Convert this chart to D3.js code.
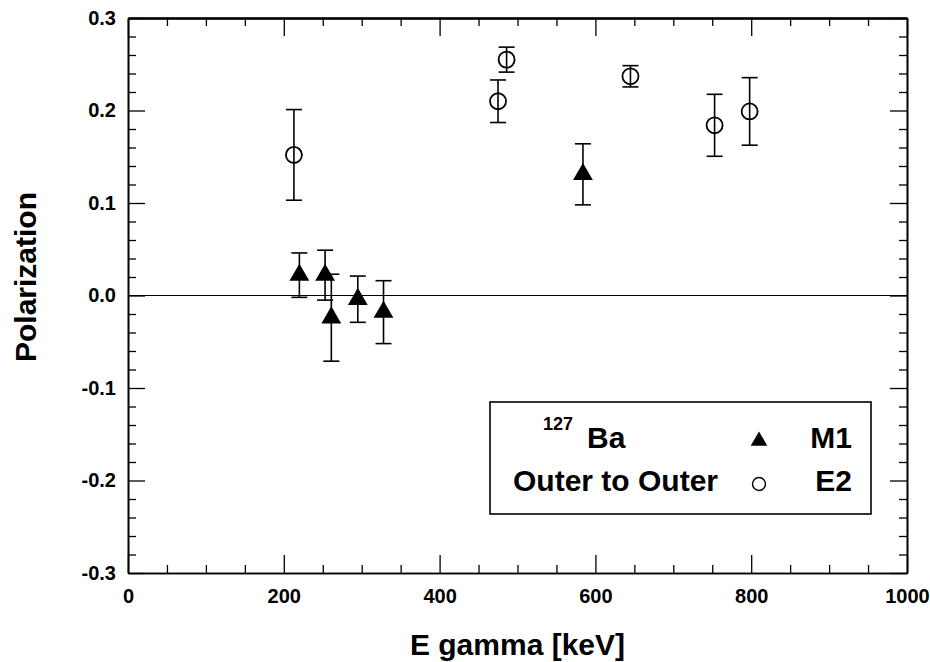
<!DOCTYPE html>
<html><head><meta charset="utf-8">
<script src="https://cdn.jsdelivr.net/npm/d3@7"></script>
<style>
html,body{margin:0;padding:0;background:#fff;}
svg text{font-family:"Liberation Sans",Arial,Helvetica,sans-serif;font-weight:bold;fill:#000;}
</style></head>
<body>
<svg id="chart" width="930" height="662"></svg>
<script>
// ---- data ----
const m1Energy = [220, 253, 261, 295, 328, 584];
const m1Pol    = [0.022, 0.022, -0.024, -0.004, -0.018, 0.131];
const m1Err    = [0.024, 0.027, 0.047, 0.025, 0.034, 0.033];

const e2Energy = [213, 475, 486, 645, 753, 798];
const e2Pol    = [0.152, 0.210, 0.255, 0.237, 0.184, 0.199];
const e2Err    = [0.049, 0.023, 0.0135, 0.0115, 0.0335, 0.0365];

const xTicks = [0, 200, 400, 600, 800, 1000];
const xMinorTicks = d3.range(0, 1001, 50).filter(v => v % 200 !== 0);
const yTicks = [-0.3, -0.2, -0.1, 0.0, 0.1, 0.2, 0.3];
const yMinorTicks = d3.range(-15, 16).map(i => i * 0.02).filter(v => Math.abs(Math.round(v * 50) % 5) !== 0);

const xTitle = "E gamma [keV]";
const yTitle = "Polarization";
const legendIsotopeMass = "127";
const legendIsotope = "Ba";
const legendLine2 = "Outer to Outer";
const seriesNames = ["M1", "E2"];

// ---- layout ----
const L = 128, R = 907, T = 18, B = 573;
const svg = d3.select("#chart");
const x = d3.scaleLinear().domain([0, 1000]).range([L, R]);
const y = d3.scaleLinear().domain([-0.3, 0.3]).range([B, T]);

const fmtY = d => d.toFixed(1);

// bottom axis
const gB = svg.append("g").attr("transform", `translate(0,${B})`);
gB.call(d3.axisBottom(x).tickValues(xTicks).tickSize(-18).tickSizeOuter(0).tickPadding(16).tickFormat(d3.format("d")));
gB.append("g").call(d3.axisBottom(x).tickValues(xMinorTicks).tickSize(-8).tickSizeOuter(0).tickFormat(""));
// top axis
const gT = svg.append("g").attr("transform", `translate(0,${T})`);
gT.call(d3.axisTop(x).tickValues(xTicks).tickSize(-18).tickSizeOuter(0).tickFormat(""));
gT.append("g").call(d3.axisTop(x).tickValues(xMinorTicks).tickSize(-8).tickSizeOuter(0).tickFormat(""));
// left axis
const gL = svg.append("g").attr("transform", `translate(${L},0)`);
gL.call(d3.axisLeft(y).tickValues(yTicks).tickSize(-17).tickSizeOuter(0).tickPadding(12).tickFormat(fmtY));
gL.append("g").call(d3.axisLeft(y).tickValues(yMinorTicks).tickSize(-8).tickSizeOuter(0).tickFormat(""));
// right axis
const gR = svg.append("g").attr("transform", `translate(${R},0)`);
gR.call(d3.axisRight(y).tickValues(yTicks).tickSize(-17).tickSizeOuter(0).tickFormat(""));
gR.append("g").call(d3.axisRight(y).tickValues(yMinorTicks).tickSize(-8).tickSizeOuter(0).tickFormat(""));

svg.selectAll(".domain").attr("stroke", "#000").attr("stroke-width", 1.6);
svg.selectAll(".tick line").attr("stroke", "#000").attr("stroke-width", 1.3);
svg.selectAll(".tick text").attr("font-size", 20).attr("font-weight", "bold")
   .attr("font-family", "Liberation Sans, Arial, sans-serif").attr("fill", "#000");
gT.select(".domain").attr("stroke-width", 2.4);

// zero line
svg.append("line").attr("x1", L).attr("x2", R).attr("y1", y(0)).attr("y2", y(0))
   .attr("stroke", "#000").attr("stroke-width", 1.2);

// axis titles
svg.append("text").attr("x", (L + R) / 2).attr("y", 655).attr("text-anchor", "middle")
   .attr("font-size", 30).text(xTitle);
svg.append("text").attr("transform", `translate(36,277) rotate(-90)`)
   .attr("text-anchor", "middle").attr("font-size", 30).text(yTitle);

// error bars
function errorBars(E, P, Er) {
  const g = svg.append("g").attr("stroke", "#000").attr("stroke-width", 1.6);
  E.forEach((e, i) => {
    const cx = x(e), y1 = y(P[i] + Er[i]), y2 = y(P[i] - Er[i]);
    g.append("line").attr("x1", cx).attr("x2", cx).attr("y1", y1).attr("y2", y2);
    g.append("line").attr("x1", cx - 8).attr("x2", cx + 8).attr("y1", y1).attr("y2", y1);
    g.append("line").attr("x1", cx - 8).attr("x2", cx + 8).attr("y1", y2).attr("y2", y2);
  });
}
errorBars(e2Energy, e2Pol, e2Err);
errorBars(m1Energy, m1Pol, m1Err);

// markers
const tri = d3.symbol().type(d3.symbolTriangle).size(170);
svg.append("g").selectAll("path").data(m1Energy).join("path")
   .attr("d", tri).attr("transform", (d, i) => `translate(${x(d)},${y(m1Pol[i])})`)
   .attr("fill", "#000");
svg.append("g").selectAll("circle").data(e2Energy).join("circle")
   .attr("cx", d => x(d)).attr("cy", (d, i) => y(e2Pol[i])).attr("r", 8)
   .attr("fill", "none").attr("stroke", "#000").attr("stroke-width", 1.8);

// legend
const lg = svg.append("g");
lg.append("rect").attr("x", 490).attr("y", 402).attr("width", 381).attr("height", 112)
  .attr("fill", "#fff").attr("stroke", "#000").attr("stroke-width", 1.6);
lg.append("text").attr("x", 543).attr("y", 430).attr("font-size", 18).text(legendIsotopeMass);
lg.append("text").attr("x", 587).attr("y", 448).attr("font-size", 30).text(legendIsotope);
lg.append("text").attr("x", 513).attr("y", 491).attr("font-size", 30).text(legendLine2);
lg.append("path").attr("d", d3.symbol().type(d3.symbolTriangle).size(120)())
  .attr("transform", "translate(759,441)").attr("fill", "#000");
lg.append("circle").attr("cx", 759).attr("cy", 484).attr("r", 6.5)
  .attr("fill", "none").attr("stroke", "#000").attr("stroke-width", 1.4);
lg.append("text").attr("x", 852).attr("y", 448).attr("text-anchor", "end").attr("font-size", 30).text(seriesNames[0]);
lg.append("text").attr("x", 852).attr("y", 491).attr("text-anchor", "end").attr("font-size", 30).text(seriesNames[1]);
</script>
</body></html>
